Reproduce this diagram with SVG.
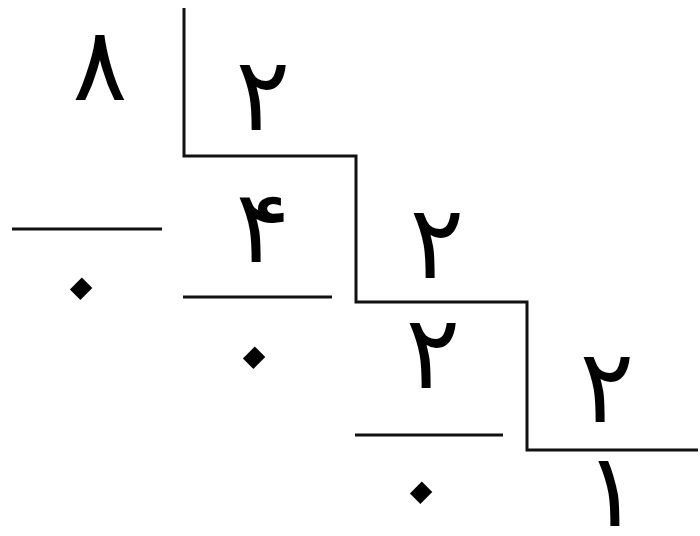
<svg xmlns="http://www.w3.org/2000/svg" width="700" height="536" viewBox="0 0 700 536">
  <style>
    .rule { fill: none; stroke: #111; stroke-width: 3; }
    .dig { font-family: "DejaVu Sans", "Noto Sans", sans-serif; font-size: 102px; fill: #000; text-anchor: middle; }
    .zero { font-family: "DejaVu Sans", "Noto Sans", sans-serif; font-size: 138px; fill: #000; text-anchor: middle; }
  </style>
  <rect width="700" height="536" fill="#fff"/>

  <!-- long division steps (8 ÷ 2 repeated) -->
  <g id="connectors">
    <polyline class="rule" points="184,8 184,156 356,156 356,302 527,302 527,450 698,450"/>
    <line class="rule" x1="12" y1="229" x2="162" y2="229"/>
    <line class="rule" x1="183" y1="297" x2="332" y2="297"/>
    <line class="rule" x1="355" y1="435" x2="503" y2="435"/>
  </g>

  <g id="dividend-8"><text class="dig" x="100" y="100">۸</text></g>
  <g id="divisor-1"><text class="dig" x="263" y="130">۲</text></g>
  <!-- zeros drawn as diamonds: the square dot turned 45° -->
  <g id="remainder-1"><text class="zero" x="82" y="328" transform="rotate(45 82 288)">۰</text></g>
  <g id="quotient-4"><text class="dig" x="263" y="262">۴</text></g>
  <g id="divisor-2"><text class="dig" x="437" y="278">۲</text></g>
  <g id="remainder-2"><text class="zero" x="255" y="397" transform="rotate(45 255 357)">۰</text></g>
  <g id="quotient-2"><text class="dig" x="433" y="388">۲</text></g>
  <g id="divisor-3"><text class="dig" x="607" y="422">۲</text></g>
  <g id="remainder-3"><text class="zero" x="422" y="532" transform="rotate(45 422 492)">۰</text></g>
  <g id="quotient-1"><text class="dig" x="612" y="526">۱</text></g>
</svg>
